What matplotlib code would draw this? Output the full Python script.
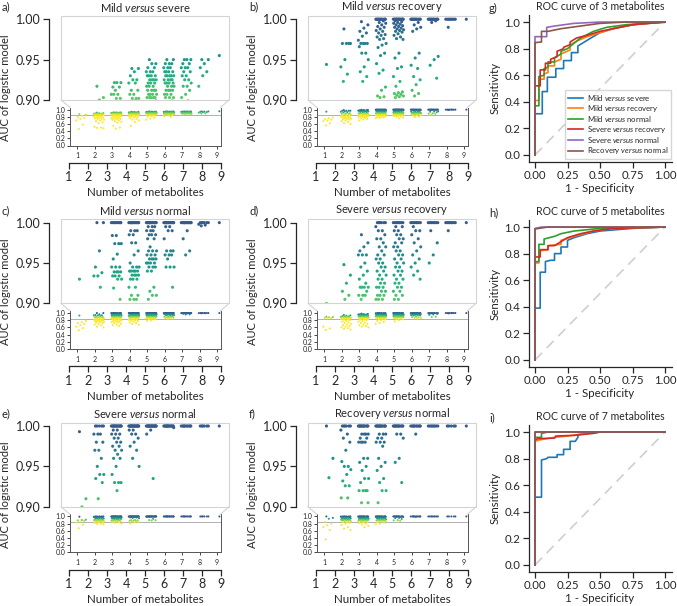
import numpy as np
import matplotlib
matplotlib.use('Agg')
import matplotlib.pyplot as plt
from matplotlib.lines import Line2D
from matplotlib.patches import Rectangle

plt.rcParams['font.family'] = ['Lato', 'DejaVu Sans']
plt.rcParams['mathtext.fontset'] = 'custom'
plt.rcParams['mathtext.rm'] = 'Lato'
plt.rcParams['mathtext.it'] = 'Lato:italic'
DARK = '#262626'
plt.rcParams['text.color'] = DARK
plt.rcParams['axes.edgecolor'] = DARK
plt.rcParams['xtick.color'] = DARK
plt.rcParams['ytick.color'] = DARK
plt.rcParams['axes.labelcolor'] = DARK

# ---------------- data: AUC of every logistic model, grouped by number of metabolites (1..9)
n_metabolites = [1, 2, 3, 4, 5, 6, 7, 8, 9]

auc_mild_severe = [
    [0.88, 0.86, 0.83, 0.79, 0.77, 0.74, 0.70, 0.58, 0.46],
    [0.917, 0.903, 0.90, 0.895, 0.89, 0.89, 0.885, 0.88, 0.875, 0.87, 0.865, 0.86, 0.86, 0.855, 0.85, 0.84,
     0.84, 0.83, 0.82, 0.81, 0.80, 0.79, 0.78, 0.77, 0.76, 0.75, 0.74, 0.72, 0.70, 0.68, 0.65, 0.62, 0.52,
     0.50, 0.49, 0.48],
    [0.9215, 0.9215, 0.9215, 0.916, 0.916, 0.912, 0.907, 0.907, 0.907, 0.902, 0.902, 0.898, 0.895, 0.893,
     0.89, 0.89, 0.888, 0.885, 0.885, 0.88, 0.88, 0.875, 0.875, 0.87, 0.87, 0.865, 0.86, 0.86, 0.855, 0.85,
     0.85, 0.845, 0.84, 0.835, 0.83, 0.82, 0.81, 0.80, 0.79, 0.78, 0.77, 0.76, 0.75, 0.74, 0.73, 0.72, 0.70,
     0.68, 0.66, 0.64, 0.55, 0.50, 0.47],
    [0.939, 0.939, 0.935, 0.93, 0.925, 0.925, 0.921, 0.921, 0.912, 0.912, 0.907, 0.907, 0.902, 0.902, 0.902,
     0.899, 0.897, 0.895, 0.893, 0.89, 0.89, 0.888, 0.885, 0.885, 0.882, 0.88, 0.88, 0.877, 0.875, 0.87,
     0.87, 0.865, 0.86, 0.86, 0.855, 0.85, 0.845, 0.84, 0.835, 0.83, 0.82, 0.81, 0.80, 0.79, 0.78, 0.76,
     0.74, 0.72, 0.70, 0.65, 0.55],
    [0.95, 0.945, 0.945, 0.94, 0.94, 0.935, 0.935, 0.935, 0.93, 0.93, 0.93, 0.93, 0.925, 0.925, 0.925, 0.925,
     0.921, 0.921, 0.921, 0.917, 0.917, 0.917, 0.912, 0.912, 0.912, 0.912, 0.907, 0.907, 0.907, 0.907,
     0.903, 0.903, 0.903, 0.903, 0.903, 0.899, 0.897, 0.895, 0.893, 0.89, 0.89, 0.888, 0.886, 0.884, 0.882,
     0.88, 0.878, 0.875, 0.872, 0.87, 0.865, 0.86, 0.855, 0.85, 0.845, 0.84, 0.83, 0.82, 0.80, 0.78, 0.75,
     0.72],
    [0.95, 0.95, 0.945, 0.945, 0.945, 0.94, 0.94, 0.94, 0.935, 0.935, 0.935, 0.935, 0.93, 0.93, 0.93, 0.93,
     0.93, 0.925, 0.925, 0.925, 0.925, 0.921, 0.921, 0.921, 0.921, 0.917, 0.917, 0.917, 0.912, 0.912, 0.912,
     0.912, 0.907, 0.907, 0.907, 0.903, 0.903, 0.903, 0.899, 0.897, 0.895, 0.892, 0.89, 0.888, 0.885, 0.882,
     0.88, 0.875, 0.87, 0.865, 0.86, 0.85, 0.84, 0.82, 0.80],
    [0.95, 0.95, 0.95, 0.945, 0.945, 0.94, 0.94, 0.94, 0.935, 0.935, 0.93, 0.93, 0.925, 0.925, 0.921, 0.917,
     0.917, 0.912, 0.907, 0.903, 0.899, 0.896, 0.893, 0.89, 0.888, 0.885, 0.88, 0.875],
    [0.95, 0.95, 0.945, 0.94, 0.935, 0.93, 0.917, 0.898, 0.895],
    [0.955],
]

auc_mild_recovery = [
    [0.944, 0.78, 0.76, 0.74, 0.72, 0.70, 0.68, 0.62, 0.56],
    [0.988, 0.97, 0.97, 0.97, 0.97, 0.95, 0.941, 0.932, 0.923, 0.898, 0.89, 0.885, 0.88, 0.87, 0.86, 0.85,
     0.84, 0.83, 0.82, 0.82, 0.81, 0.80, 0.79, 0.78, 0.78, 0.77, 0.76, 0.75, 0.74, 0.73, 0.72, 0.70, 0.68,
     0.66, 0.62, 0.60],
    [0.997, 0.993, 0.989, 0.985, 0.983, 0.979, 0.974, 0.97, 0.97, 0.97, 0.97, 0.966, 0.958, 0.958, 0.95,
     0.941, 0.935, 0.929, 0.923, 0.898, 0.895, 0.89, 0.885, 0.88, 0.875, 0.87, 0.865, 0.86, 0.855, 0.85,
     0.845, 0.84, 0.835, 0.83, 0.825, 0.82, 0.815, 0.81, 0.80, 0.79, 0.78, 0.77, 0.76, 0.74, 0.72, 0.70],
    [1.0, 1.0, 1.0, 1.0, 1.0, 1.0, 1.0, 1.0, 1.0, 1.0, 1.0, 1.0, 0.998, 0.996, 0.995, 0.993, 0.991, 0.99,
     0.988, 0.986, 0.985, 0.983, 0.981, 0.98, 0.978, 0.976, 0.975, 0.97, 0.968, 0.965, 0.958, 0.955, 0.945,
     0.937, 0.933, 0.916, 0.912, 0.905, 0.904, 0.903, 0.898, 0.895, 0.89, 0.885, 0.88, 0.875, 0.87, 0.865,
     0.86, 0.855, 0.85, 0.845, 0.84, 0.835, 0.83, 0.82, 0.81, 0.80, 0.79, 0.78, 0.77, 0.76],
    [1.0, 1.0, 1.0, 1.0, 1.0, 1.0, 1.0, 1.0, 1.0, 1.0, 1.0, 1.0, 1.0, 1.0, 1.0, 1.0, 0.998, 0.997, 0.996,
     0.995, 0.994, 0.993, 0.992, 0.991, 0.99, 0.989, 0.988, 0.987, 0.986, 0.985, 0.984, 0.982, 0.98, 0.978,
     0.976, 0.975, 0.958, 0.952, 0.941, 0.939, 0.929, 0.923, 0.917, 0.91, 0.909, 0.908, 0.907, 0.906, 0.905,
     0.904, 0.903, 0.898, 0.895, 0.89, 0.885, 0.88, 0.875, 0.87, 0.865, 0.86, 0.855, 0.85, 0.845, 0.84,
     0.835, 0.83, 0.82, 0.81, 0.80, 0.78, 0.76],
    [1.0, 1.0, 1.0, 1.0, 1.0, 1.0, 1.0, 1.0, 1.0, 1.0, 1.0, 1.0, 0.996, 0.993, 0.99, 0.988, 0.985, 0.958,
     0.952, 0.943, 0.939, 0.929, 0.925, 0.919, 0.912, 0.908, 0.905, 0.898, 0.893, 0.89, 0.885, 0.88, 0.875,
     0.87, 0.86, 0.85, 0.84, 0.83, 0.81, 0.79],
    [1.0, 1.0, 1.0, 1.0, 1.0, 1.0, 1.0, 1.0, 1.0, 1.0, 1.0, 1.0, 0.998, 0.996, 0.954, 0.95, 0.943, 0.927,
     0.898, 0.89, 0.88, 0.86],
    [1.0, 1.0, 1.0, 1.0, 1.0, 1.0, 1.0, 1.0, 0.99],
    [1.0],
]

auc_mild_normal = [
    [0.93, 0.78, 0.75, 0.72, 0.70, 0.66, 0.62, 0.58, 0.52],
    [1.0, 1.0, 0.965, 0.945, 0.938, 0.934, 0.934, 0.92, 0.898, 0.89, 0.88, 0.88, 0.87, 0.86, 0.86, 0.85,
     0.84, 0.84, 0.83, 0.82, 0.82, 0.81, 0.80, 0.79, 0.78, 0.78, 0.77, 0.76, 0.75, 0.74, 0.72, 0.70, 0.68,
     0.66, 0.62, 0.60],
    [1.0, 1.0, 1.0, 1.0, 1.0, 1.0, 1.0, 1.0, 1.0, 1.0, 0.984, 0.984, 0.974, 0.974, 0.974, 0.961, 0.955,
     0.945, 0.945, 0.945, 0.939, 0.939, 0.939, 0.939, 0.934, 0.934, 0.934, 0.93, 0.93, 0.919, 0.905, 0.898,
     0.895, 0.89, 0.885, 0.88, 0.875, 0.87, 0.865, 0.86, 0.855, 0.85, 0.845, 0.84, 0.835, 0.83, 0.82, 0.81,
     0.80, 0.79, 0.78, 0.77, 0.76, 0.75, 0.74, 0.72, 0.70, 0.68, 0.66, 0.64],
    [1.0, 1.0, 1.0, 1.0, 1.0, 1.0, 1.0, 1.0, 1.0, 1.0, 1.0, 1.0, 1.0, 1.0, 1.0, 0.99, 0.99, 0.99, 0.985,
     0.985, 0.975, 0.975, 0.965, 0.96, 0.95, 0.945, 0.945, 0.945, 0.94, 0.94, 0.94, 0.94, 0.94, 0.935, 0.935,
     0.935, 0.935, 0.93, 0.93, 0.93, 0.92, 0.92, 0.91, 0.91, 0.905, 0.905, 0.905, 0.898, 0.895, 0.89, 0.885,
     0.88, 0.875, 0.87, 0.865, 0.86, 0.855, 0.85, 0.84, 0.83, 0.82, 0.81, 0.80, 0.79, 0.78, 0.76, 0.74,
     0.72, 0.70, 0.68],
    [1.0, 1.0, 1.0, 1.0, 1.0, 1.0, 1.0, 1.0, 1.0, 1.0, 1.0, 1.0, 1.0, 1.0, 1.0, 0.995, 0.995, 0.995, 0.99,
     0.99, 0.99, 0.985, 0.985, 0.985, 0.98, 0.98, 0.97, 0.965, 0.965, 0.965, 0.96, 0.96, 0.96, 0.955, 0.955,
     0.955, 0.955, 0.95, 0.95, 0.95, 0.95, 0.945, 0.945, 0.945, 0.94, 0.94, 0.92, 0.915, 0.91, 0.91, 0.905,
     0.898, 0.895, 0.89, 0.885, 0.88, 0.875, 0.87, 0.865, 0.86, 0.855, 0.85, 0.84, 0.83, 0.82, 0.80, 0.78],
    [1.0, 1.0, 1.0, 1.0, 1.0, 1.0, 1.0, 1.0, 1.0, 1.0, 1.0, 1.0, 1.0, 1.0, 1.0, 0.995, 0.995, 0.99, 0.99,
     0.98, 0.965, 0.965, 0.965, 0.96, 0.96, 0.96, 0.955, 0.945, 0.945, 0.945, 0.92, 0.898, 0.895, 0.89,
     0.885, 0.88, 0.87, 0.86, 0.85, 0.84],
    [1.0, 1.0, 1.0, 1.0, 1.0, 1.0, 1.0, 1.0, 1.0, 1.0, 1.0, 1.0, 1.0, 1.0, 1.0, 0.99, 0.98, 0.965, 0.96],
    [1.0, 1.0, 1.0, 1.0, 1.0, 1.0, 0.998, 0.997, 0.996],
    [1.0],
]

auc_severe_recovery = [
    [0.90, 0.89, 0.88, 0.87, 0.86, 0.85, 0.62, 0.57, 0.53],
    [0.948, 0.935, 0.925, 0.915, 0.91, 0.905, 0.898, 0.895, 0.89, 0.885, 0.88, 0.875, 0.87, 0.865, 0.86,
     0.855, 0.85, 0.845, 0.84, 0.83, 0.82, 0.81, 0.80, 0.78, 0.76, 0.74, 0.72, 0.70, 0.68, 0.66, 0.64,
     0.62, 0.60, 0.58, 0.56, 0.54],
    [0.985, 0.975, 0.97, 0.965, 0.96, 0.96, 0.96, 0.95, 0.945, 0.94, 0.935, 0.93, 0.925, 0.92, 0.92, 0.92,
     0.92, 0.915, 0.91, 0.91, 0.91, 0.905, 0.898, 0.895, 0.89, 0.885, 0.88, 0.875, 0.87, 0.865, 0.86, 0.855,
     0.85, 0.845, 0.84, 0.83, 0.82, 0.81, 0.80, 0.78, 0.76, 0.74, 0.72, 0.70, 0.68, 0.66, 0.64, 0.62, 0.60],
    [1.0, 1.0, 1.0, 1.0, 1.0, 1.0, 0.995, 0.99, 0.99, 0.985, 0.98, 0.98, 0.975, 0.97, 0.97, 0.965, 0.96,
     0.96, 0.955, 0.955, 0.95, 0.95, 0.945, 0.945, 0.94, 0.94, 0.935, 0.935, 0.93, 0.93, 0.925, 0.925, 0.92,
     0.92, 0.92, 0.915, 0.915, 0.91, 0.91, 0.91, 0.905, 0.905, 0.905, 0.898, 0.895, 0.89, 0.885, 0.88,
     0.875, 0.87, 0.865, 0.86, 0.855, 0.85, 0.84, 0.83, 0.82, 0.80, 0.78, 0.75, 0.72, 0.70],
    [1.0, 1.0, 1.0, 1.0, 1.0, 1.0, 1.0, 1.0, 0.995, 0.995, 0.99, 0.99, 0.985, 0.985, 0.98, 0.98, 0.975,
     0.975, 0.97, 0.97, 0.965, 0.965, 0.96, 0.96, 0.955, 0.955, 0.95, 0.95, 0.945, 0.945, 0.94, 0.94, 0.935,
     0.935, 0.93, 0.93, 0.925, 0.925, 0.92, 0.92, 0.915, 0.915, 0.91, 0.91, 0.905, 0.905, 0.898, 0.895,
     0.89, 0.885, 0.88, 0.875, 0.87, 0.86, 0.85, 0.84, 0.82, 0.80, 0.77],
    [1.0, 1.0, 1.0, 1.0, 1.0, 1.0, 1.0, 1.0, 0.995, 0.99, 0.99, 0.985, 0.98, 0.975, 0.97, 0.965, 0.96,
     0.955, 0.95, 0.945, 0.94, 0.935, 0.93, 0.898, 0.89, 0.88, 0.87, 0.86, 0.85],
    [1.0, 1.0, 1.0, 1.0, 1.0, 1.0, 1.0, 1.0, 0.99, 0.975, 0.96, 0.95, 0.898, 0.89],
    [1.0, 1.0, 1.0, 1.0, 1.0, 1.0, 1.0, 1.0, 0.99],
    [1.0],
]

auc_severe_normal = [
    [0.993, 0.91, 0.90, 0.89, 0.88, 0.85, 0.83, 0.77, 0.67],
    [1.0, 1.0, 1.0, 1.0, 1.0, 0.99, 0.99, 0.99, 0.98, 0.98, 0.97, 0.97, 0.96, 0.95, 0.94, 0.94, 0.935, 0.93,
     0.91, 0.898, 0.895, 0.89, 0.885, 0.88, 0.875, 0.87, 0.865, 0.86, 0.855, 0.85, 0.84, 0.83, 0.82, 0.80,
     0.79, 0.78],
    [1.0, 1.0, 1.0, 1.0, 1.0, 1.0, 1.0, 1.0, 1.0, 1.0, 1.0, 1.0, 1.0, 1.0, 1.0, 0.995, 0.995, 0.99, 0.99,
     0.99, 0.985, 0.985, 0.98, 0.98, 0.975, 0.975, 0.97, 0.97, 0.965, 0.96, 0.96, 0.95, 0.94, 0.93, 0.93,
     0.93, 0.92, 0.898, 0.895, 0.89, 0.885, 0.88, 0.875, 0.87, 0.86, 0.85, 0.84, 0.82, 0.80],
    [1.0, 1.0, 1.0, 1.0, 1.0, 1.0, 1.0, 1.0, 1.0, 1.0, 1.0, 1.0, 1.0, 1.0, 1.0, 1.0, 1.0, 1.0, 0.995, 0.995,
     0.99, 0.99, 0.985, 0.98, 0.975, 0.97, 0.96, 0.95, 0.898, 0.895, 0.89, 0.885, 0.88, 0.87, 0.86, 0.85,
     0.83, 0.80],
    [1.0, 1.0, 1.0, 1.0, 1.0, 1.0, 1.0, 1.0, 1.0, 1.0, 1.0, 1.0, 1.0, 1.0, 1.0, 1.0, 1.0, 1.0, 0.995, 0.99,
     0.935, 0.898, 0.895, 0.89],
    [1.0, 1.0, 1.0, 1.0, 1.0, 1.0, 1.0, 1.0, 1.0, 1.0, 1.0, 1.0, 1.0, 1.0, 0.998],
    [1.0, 1.0, 1.0, 1.0, 1.0, 1.0, 1.0, 1.0, 1.0, 1.0],
    [1.0, 1.0, 1.0, 1.0, 1.0, 1.0],
    [1.0],
]

auc_recovery_normal = [
    [1.0, 0.96, 0.936, 0.85, 0.80, 0.75, 0.70, 0.62, 0.36],
    [1.0, 1.0, 1.0, 1.0, 1.0, 1.0, 0.995, 0.99, 0.985, 0.98, 0.97, 0.956, 0.95, 0.95, 0.946, 0.94, 0.932,
     0.926, 0.926, 0.911, 0.911, 0.898, 0.895, 0.89, 0.885, 0.88, 0.87, 0.86, 0.85, 0.84, 0.82, 0.80, 0.76,
     0.70, 0.66, 0.62],
    [1.0, 1.0, 1.0, 1.0, 1.0, 1.0, 1.0, 1.0, 1.0, 1.0, 1.0, 1.0, 0.99, 0.99, 0.99, 0.99, 0.985, 0.985, 0.98,
     0.98, 0.98, 0.98, 0.96, 0.96, 0.955, 0.95, 0.945, 0.935, 0.935, 0.93, 0.92, 0.92, 0.92, 0.92, 0.905,
     0.905, 0.898, 0.895, 0.89, 0.885, 0.88, 0.87, 0.86, 0.85, 0.84, 0.82, 0.80, 0.78, 0.74, 0.70],
    [1.0, 1.0, 1.0, 1.0, 1.0, 1.0, 1.0, 1.0, 1.0, 1.0, 1.0, 1.0, 0.99, 0.99, 0.99, 0.985, 0.985, 0.98, 0.98,
     0.98, 0.975, 0.96, 0.955, 0.95, 0.945, 0.935, 0.93, 0.92, 0.92, 0.905, 0.898, 0.895, 0.89, 0.885, 0.88,
     0.87, 0.86, 0.84, 0.82, 0.80, 0.78],
    [1.0, 1.0, 1.0, 1.0, 1.0, 1.0, 1.0, 1.0, 1.0, 1.0, 1.0, 1.0, 0.99, 0.99, 0.985, 0.96, 0.955, 0.93,
     0.898, 0.89, 0.88],
    [1.0, 1.0, 1.0, 1.0, 1.0, 1.0, 1.0, 1.0, 1.0, 1.0, 0.99],
    [1.0, 1.0, 1.0, 1.0, 1.0, 1.0, 1.0, 1.0],
    [1.0, 1.0, 1.0, 1.0, 1.0],
    [1.0],
]

scatter_panels = [
    ('a)', 'Mild $\\it{versus}$ severe', auc_mild_severe),
    ('b)', 'Mild $\\it{versus}$ recovery', auc_mild_recovery),
    ('c)', 'Mild $\\it{versus}$ normal', auc_mild_normal),
    ('d)', 'Severe $\\it{versus}$ recovery', auc_severe_recovery),
    ('e)', 'Severe $\\it{versus}$ normal', auc_severe_normal),
    ('f)', 'Recovery $\\it{versus}$ normal', auc_recovery_normal),
]
inset_reference_auc = 0.84

# ---------------- ROC data (fpr, tpr) per comparison
comparisons = ['Mild $\\it{versus}$ severe', 'Mild $\\it{versus}$ recovery', 'Mild $\\it{versus}$ normal',
               'Severe $\\it{versus}$ recovery', 'Severe $\\it{versus}$ normal', 'Recovery $\\it{versus}$ normal']
roc_colors = ['#1f77b4', '#ff7f0e', '#2ca02c', '#d62728', '#9467bd', '#8c564b']

roc3_fpr = [
    [0, 0, 0.056, 0.056, 0.095, 0.095, 0.16, 0.16, 0.22, 0.22, 0.28, 0.28, 0.33, 0.33, 0.38, 0.43, 0.5, 0.6, 0.7, 0.8, 1],
    [0, 0, 0.03, 0.03, 0.07, 0.07, 0.1, 0.1, 0.15, 0.15, 0.2, 0.2, 0.27, 0.27, 0.33, 0.4, 0.5, 0.6, 0.75, 1],
    [0, 0, 0.03, 0.03, 0.07, 0.07, 0.1, 0.1, 0.15, 0.15, 0.2, 0.2, 0.25, 0.3, 0.35, 0.45, 0.55, 0.7, 1],
    [0, 0, 0.04, 0.04, 0.08, 0.08, 0.12, 0.12, 0.17, 0.17, 0.22, 0.22, 0.27, 0.27, 0.32, 0.4, 0.5, 0.6, 0.75, 1],
    [0, 0, 0.09, 0.09, 0.15, 0.3, 0.5, 1],
    [0, 0, 0.05, 0.05, 0.1, 0.2, 0.35, 0.5, 0.7, 1],
]
roc3_tpr = [
    [0, 0.31, 0.31, 0.477, 0.477, 0.585, 0.585, 0.65, 0.65, 0.71, 0.71, 0.77, 0.77, 0.82, 0.85, 0.88, 0.92, 0.95, 0.97, 0.985, 1],
    [0, 0.41, 0.41, 0.57, 0.57, 0.61, 0.62, 0.67, 0.67, 0.70, 0.72, 0.76, 0.79, 0.83, 0.86, 0.89, 0.92, 0.95, 0.98, 1],
    [0, 0.37, 0.37, 0.59, 0.60, 0.65, 0.66, 0.70, 0.70, 0.73, 0.76, 0.78, 0.80, 0.84, 0.88, 0.93, 0.96, 0.98, 1],
    [0, 0.52, 0.52, 0.64, 0.64, 0.69, 0.69, 0.72, 0.74, 0.78, 0.80, 0.81, 0.83, 0.85, 0.88, 0.90, 0.93, 0.95, 0.98, 1],
    [0, 0.89, 0.89, 0.96, 0.97, 0.99, 1.0, 1],
    [0, 0.845, 0.85, 0.93, 0.93, 0.95, 0.97, 0.99, 1.0, 1],
]

roc5_fpr = [
    [0, 0, 0.04, 0.04, 0.08, 0.08, 0.12, 0.15, 0.15, 0.2, 0.2, 0.25, 0.25, 0.3, 0.4, 0.5, 0.75, 1],
    [0, 0, 0.03, 0.03, 0.1, 0.1, 0.2, 0.2, 0.3, 0.45, 0.6, 1],
    [0, 0, 0.03, 0.03, 0.07, 0.07, 0.15, 0.2, 0.3, 0.5, 1],
    [0, 0, 0.04, 0.04, 0.1, 0.1, 0.15, 0.2, 0.25, 0.35, 0.45, 0.6, 1],
    [0, 0, 0.05, 1],
    [0, 0, 0.03, 0.1, 1],
]
roc5_tpr = [
    [0, 0.39, 0.39, 0.66, 0.66, 0.74, 0.75, 0.75, 0.80, 0.80, 0.85, 0.85, 0.90, 0.92, 0.95, 0.97, 0.99, 1],
    [0, 0.73, 0.73, 0.82, 0.83, 0.86, 0.87, 0.90, 0.93, 0.97, 0.99, 1],
    [0, 0.74, 0.74, 0.87, 0.87, 0.91, 0.93, 0.95, 0.97, 0.99, 1],
    [0, 0.775, 0.775, 0.83, 0.83, 0.86, 0.86, 0.89, 0.92, 0.95, 0.97, 0.99, 1],
    [0, 0.99, 1.0, 1],
    [0, 0.985, 0.99, 1.0, 1],
]

roc7_fpr = [
    [0, 0, 0.05, 0.05, 0.09, 0.1, 0.17, 0.17, 0.22, 0.22, 0.27, 0.27, 0.31, 0.33, 0.33, 0.4, 0.5, 1],
    [0, 0, 0.03, 0.15, 0.25, 0.4, 0.5, 1],
    [0, 0, 0.05, 0.05, 0.1, 1],
    [0, 0, 0.02, 0.15, 0.16, 0.3, 0.45, 0.5, 1],
    [0, 0, 1],
    [0, 0, 1],
]
roc7_tpr = [
    [0, 0.51, 0.51, 0.79, 0.80, 0.81, 0.81, 0.83, 0.83, 0.87, 0.87, 0.93, 0.93, 0.96, 0.98, 0.99, 1.0, 1],
    [0, 0.93, 0.94, 0.96, 0.97, 0.99, 1.0, 1],
    [0, 0.96, 0.96, 0.99, 1.0, 1],
    [0, 0.94, 0.95, 0.955, 0.97, 0.975, 0.99, 1.0, 1],
    [0, 1.0, 1],
    [0, 1.0, 1],
]

roc_panels = [
    ('g)', 'ROC curve of 3 metabolites', roc3_fpr, roc3_tpr),
    ('h)', 'ROC curve of 5 metabolites', roc5_fpr, roc5_tpr),
    ('i)', 'ROC curve of 7 metabolites', roc7_fpr, roc7_tpr),
]

# ---------------- figure
W, H = 677, 606
fig = plt.figure(figsize=(W / 100, H / 100), dpi=100)


def rect(x0, y0, x1, y1):
    return [x0 / W, 1 - y1 / H, (x1 - x0) / W, (y1 - y0) / H]


cmap = plt.get_cmap('viridis')


def auc_color(v):
    v = np.asarray(v, dtype=float)
    return cmap(np.clip(1 - (v - 0.85) / 0.15 * 0.72, 0, 1))


def jitter_x(k, n):
    idx = np.arange(n)
    frac = ((idx + 0.5) * 0.6180339887) % 1.0
    return k + 0.25 + (frac - 0.5) * 0.6


def draw_scatter_panel(col, row, label, title, groups):
    dx = 247 * col
    dy = 203.4 * row
    xs, ys = [], []
    for k, vals in zip(n_metabolites, groups):
        xs.append(jitter_x(k, len(vals)))
        ys.append(np.asarray(vals, dtype=float))
    xs = np.concatenate(xs)
    ys = np.concatenate(ys)
    cols = auc_color(ys)

    # zoomed upper view
    up = fig.add_axes(rect(61 + dx, 16 + dy, 229 + dx, 100 + dy))
    up.set_xlim(0.08, 9.69)
    up.set_ylim(0.9, 1.004)
    for s in ['top', 'right', 'bottom']:
        up.spines[s].set_visible(False)
    up.spines['left'].set_position(('outward', 8.6))
    up.spines['left'].set_bounds(0.9, 1.0)
    up.spines['left'].set_linewidth(0.9)
    up.add_patch(Rectangle((0, 0), 1, 1, transform=up.transAxes, fill=False,
                           ec='#d4d4d4', lw=0.8, clip_on=False))
    up.set_xticks([])
    up.set_yticks([0.90, 0.95, 1.00])
    up.set_yticklabels(['0.90', '0.95', '1.00'])
    up.tick_params(axis='y', labelsize=9, length=4, width=0.9, pad=2)
    m = ys >= 0.899
    up.scatter(xs[m], ys[m], s=5, c=cols[m], linewidths=0, zorder=3)

    # full-range inset
    ins = fig.add_axes(rect(70 + dx, 107.5 + dy, 220.5 + dx, 145.5 + dy))
    ins.set_xlim(0.6, 9.2)
    ins.set_ylim(0, 1.06)
    ins.spines['top'].set_visible(False)
    for s in ['left', 'bottom', 'right']:
        ins.spines[s].set_color('#555555')
        ins.spines[s].set_linewidth(0.7)
    ins.set_yticks([0.0, 0.2, 0.4, 0.6, 0.8, 1.0])
    ins.set_yticklabels(['0.0', '0.2', '0.4', '0.6', '0.8', '1.0'])
    ins.set_xticks(n_metabolites)
    ins.tick_params(labelsize=5, length=2, width=0.6, pad=1.5)
    ins.tick_params(axis='x', pad=3)
    ins.axhline(inset_reference_auc, color='#b0b0b0', lw=0.7, zorder=1)
    ins.scatter(xs, ys, s=2.2, c=cols, linewidths=0, zorder=3)

    # connector lines
    for (xa, ya, xb, yb) in [(61, 100, 70, 107.5), (229, 100, 220.5, 107.5)]:
        fig.add_artist(Line2D([(xa + dx) / W, (xb + dx) / W], [1 - (ya + dy) / H, 1 - (yb + dy) / H],
                              color='#d4d4d4', lw=0.8))

    # outer x axis
    bx = fig.add_axes(rect(69 + dx, 150 + dy, 221 + dx, 163 + dy))
    bx.patch.set_visible(False)
    for s in ['top', 'right', 'left']:
        bx.spines[s].set_visible(False)
    bx.spines['bottom'].set_linewidth(0.9)
    bx.set_xlim(1, 9)
    bx.set_yticks([])
    bx.set_xticks(n_metabolites)
    bx.tick_params(axis='x', labelsize=9, length=4, width=0.9, pad=2)
    bx.set_xlabel('Number of metabolites', fontsize=8.3, labelpad=3)

    fig.text((6 + dx) / W, 1 - (88 + dy) / H, 'AUC of logistic model', rotation=90,
             ha='center', va='center', fontsize=8)
    fig.text((145 + dx) / W, 1 - (7 + dy) / H, title, ha='center', va='center', fontsize=8)
    fig.text((2 + dx) / W, 1 - (7 + dy) / H, label, ha='left', va='center', fontsize=8)


for i, (lab, ttl, groups) in enumerate(scatter_panels):
    draw_scatter_panel(i % 2, i // 2, lab, ttl, groups)


def draw_roc(row, label, title, fprs, tprs):
    dy = 205 * row
    ax = fig.add_axes(rect(528.5, 15.4 + dy, 671.5, 161.6 + dy))
    ax.set_xlim(-0.05, 1.05)
    ax.set_ylim(-0.05, 1.05)
    ax.spines['top'].set_visible(False)
    ax.spines['right'].set_visible(False)
    ax.spines['left'].set_linewidth(0.9)
    ax.spines['bottom'].set_linewidth(0.9)
    ax.plot([0, 1], [0, 1], color='#cfcfcf', lw=1.2, ls=(0, (6, 4)), zorder=1)
    for name, c, fx, fy in zip(comparisons, roc_colors, fprs, tprs):
        ax.plot(fx, fy, color=c, lw=1.2, label=name, zorder=2)
    ax.set_xticks([0, 0.25, 0.5, 0.75, 1.0])
    ax.set_xticklabels(['0.00', '0.25', '0.50', '0.75', '1.00'])
    ax.set_yticks([0, 0.2, 0.4, 0.6, 0.8, 1.0])
    ax.set_yticklabels(['0.0', '0.2', '0.4', '0.6', '0.8', '1.0'])
    ax.tick_params(labelsize=8.2, length=4, width=0.9, pad=2)
    ax.set_xlabel('1 - Specificity', fontsize=8.3, labelpad=1.5)
    ax.set_ylabel('Sensitivity', fontsize=8.3, labelpad=3)
    ax.set_title(title, fontsize=7.6, pad=4)
    fig.text(489 / W, 1 - (8 + dy) / H, label, ha='left', va='center', fontsize=8)
    if row == 0:
        ax.legend(loc='lower right', bbox_to_anchor=(0.995, 0.02), fontsize=5.6, frameon=True,
                  edgecolor='#cccccc', fancybox=False, labelspacing=0.02, handlelength=2.0,
                  handletextpad=0.5, borderpad=0.3, borderaxespad=0.0)
    return ax


for r, (lab, ttl, fx, fy) in enumerate(roc_panels):
    draw_roc(r, lab, ttl, fx, fy)

fig.savefig('out.png', dpi=100)
